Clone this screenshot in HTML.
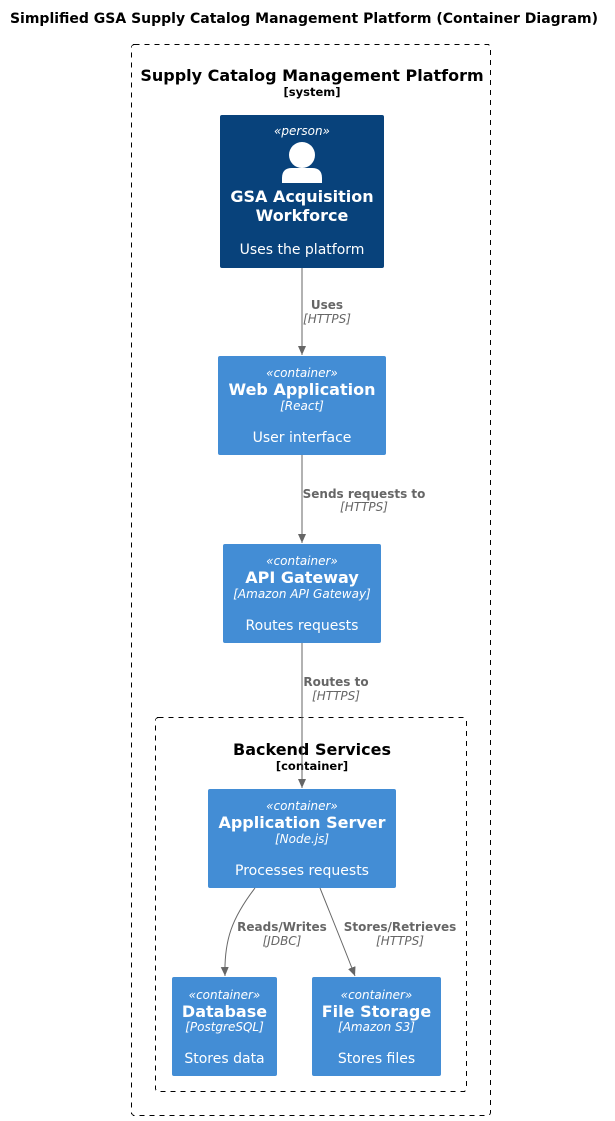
<!DOCTYPE html>
<html><head><meta charset="utf-8"><style>
html,body{margin:0;padding:0;background:#fff;}
svg{display:block;}
text{font-family:"DejaVu Sans","Liberation Sans",sans-serif;}
</style></head><body>
<svg width="615" height="1121" viewBox="0 0 615 1121" xmlns="http://www.w3.org/2000/svg">
<defs><marker id="a" markerWidth="10" markerHeight="10" refX="9" refY="5" orient="auto" markerUnits="userSpaceOnUse"><path d="M0,1 L9,5 L0,9 Z" fill="#666"/></marker></defs>
<text x="304" y="23" text-anchor="middle" font-size="14" font-weight="bold">Simplified GSA Supply Catalog Management Platform (Container Diagram)</text>
<rect x="131.5" y="44.5" width="359" height="1071" rx="3" fill="none" stroke="#000" stroke-dasharray="5,5" shape-rendering="crispEdges"/>
<text x="312" y="81" text-anchor="middle" font-size="16" font-weight="bold">Supply Catalog Management Platform</text>
<text x="312" y="96" text-anchor="middle" font-size="11.5" font-weight="bold">[system]</text>
<rect x="155.5" y="717.5" width="311" height="374" rx="3" fill="none" stroke="#000" stroke-dasharray="5,5" shape-rendering="crispEdges"/>
<text x="312" y="755" text-anchor="middle" font-size="16" font-weight="bold">Backend Services</text>
<text x="312" y="770" text-anchor="middle" font-size="11.5" font-weight="bold">[container]</text>

<rect x="220" y="115" width="164" height="153" rx="2" fill="#08427B"/>
<g fill="#fff" text-anchor="middle">
<text x="302" y="135" font-size="12" font-style="italic">«person»</text>
<circle cx="302" cy="155" r="13"/>
<path d="M282,183 L282,178 Q282,168 292,168 L312,168 Q322,168 322,178 L322,183 Z"/>
<text x="302" y="202" font-size="16" font-weight="bold">GSA Acquisition</text>
<text x="302" y="221" font-size="16" font-weight="bold">Workforce</text>
<text x="302" y="254" font-size="14">Uses the platform</text>
</g>

<line x1="302" y1="268" x2="302" y2="355" stroke="#666" marker-end="url(#a)"/>
<text x="327" y="309" text-anchor="middle" font-size="12" font-weight="bold" fill="#666">Uses</text>
<text x="327" y="323" text-anchor="middle" font-size="12" font-style="italic" fill="#666">[HTTPS]</text>

<rect x="218" y="356" width="168" height="99" rx="2" fill="#438DD5"/>
<g fill="#fff" text-anchor="middle">
<text x="302" y="377" font-size="12" font-style="italic">«container»</text>
<text x="302" y="395" font-size="16" font-weight="bold">Web Application</text>
<text x="302" y="410" font-size="12" font-style="italic">[React]</text>
<text x="302" y="442" font-size="14">User interface</text>
</g>

<line x1="302" y1="455" x2="302" y2="543" stroke="#666" marker-end="url(#a)"/>
<text x="364" y="498" text-anchor="middle" font-size="12" font-weight="bold" fill="#666">Sends requests to</text>
<text x="364" y="511" text-anchor="middle" font-size="12" font-style="italic" fill="#666">[HTTPS]</text>

<rect x="223" y="544" width="158" height="99" rx="2" fill="#438DD5"/>
<g fill="#fff" text-anchor="middle">
<text x="302" y="565" font-size="12" font-style="italic">«container»</text>
<text x="302" y="583" font-size="16" font-weight="bold">API Gateway</text>
<text x="302" y="598" font-size="12" font-style="italic">[Amazon API Gateway]</text>
<text x="302" y="630" font-size="14">Routes requests</text>
</g>

<line x1="302" y1="643" x2="302" y2="788" stroke="#666" marker-end="url(#a)"/>
<text x="336" y="686" text-anchor="middle" font-size="12" font-weight="bold" fill="#666">Routes to</text>
<text x="336" y="700" text-anchor="middle" font-size="12" font-style="italic" fill="#666">[HTTPS]</text>

<rect x="208" y="789" width="188" height="99" rx="2" fill="#438DD5"/>
<g fill="#fff" text-anchor="middle">
<text x="302" y="810" font-size="12" font-style="italic">«container»</text>
<text x="302" y="828" font-size="16" font-weight="bold">Application Server</text>
<text x="302" y="843" font-size="12" font-style="italic">[Node.js]</text>
<text x="302" y="875" font-size="14">Processes requests</text>
</g>

<path d="M255,888 C232,918 224,940 225,976" fill="none" stroke="#666" marker-end="url(#a)"/>
<path d="M320,888 C332,918 345,950 355,976" fill="none" stroke="#666" marker-end="url(#a)"/>
<text x="282" y="931" text-anchor="middle" font-size="12" font-weight="bold" fill="#666">Reads/Writes</text>
<text x="282" y="945" text-anchor="middle" font-size="12" font-style="italic" fill="#666">[JDBC]</text>
<text x="400" y="931" text-anchor="middle" font-size="12" font-weight="bold" fill="#666">Stores/Retrieves</text>
<text x="400" y="945" text-anchor="middle" font-size="12" font-style="italic" fill="#666">[HTTPS]</text>

<rect x="172" y="977" width="105" height="99" rx="2" fill="#438DD5"/>
<g fill="#fff" text-anchor="middle">
<text x="224.5" y="999" font-size="12" font-style="italic">«container»</text>
<text x="224.5" y="1017" font-size="16" font-weight="bold">Database</text>
<text x="224.5" y="1031" font-size="12" font-style="italic">[PostgreSQL]</text>
<text x="224.5" y="1063" font-size="14">Stores data</text>
</g>

<rect x="312" y="977" width="129" height="99" rx="2" fill="#438DD5"/>
<g fill="#fff" text-anchor="middle">
<text x="376.5" y="999" font-size="12" font-style="italic">«container»</text>
<text x="376.5" y="1017" font-size="16" font-weight="bold">File Storage</text>
<text x="376.5" y="1031" font-size="12" font-style="italic">[Amazon S3]</text>
<text x="376.5" y="1063" font-size="14">Stores files</text>
</g>
</svg>
</body></html>
